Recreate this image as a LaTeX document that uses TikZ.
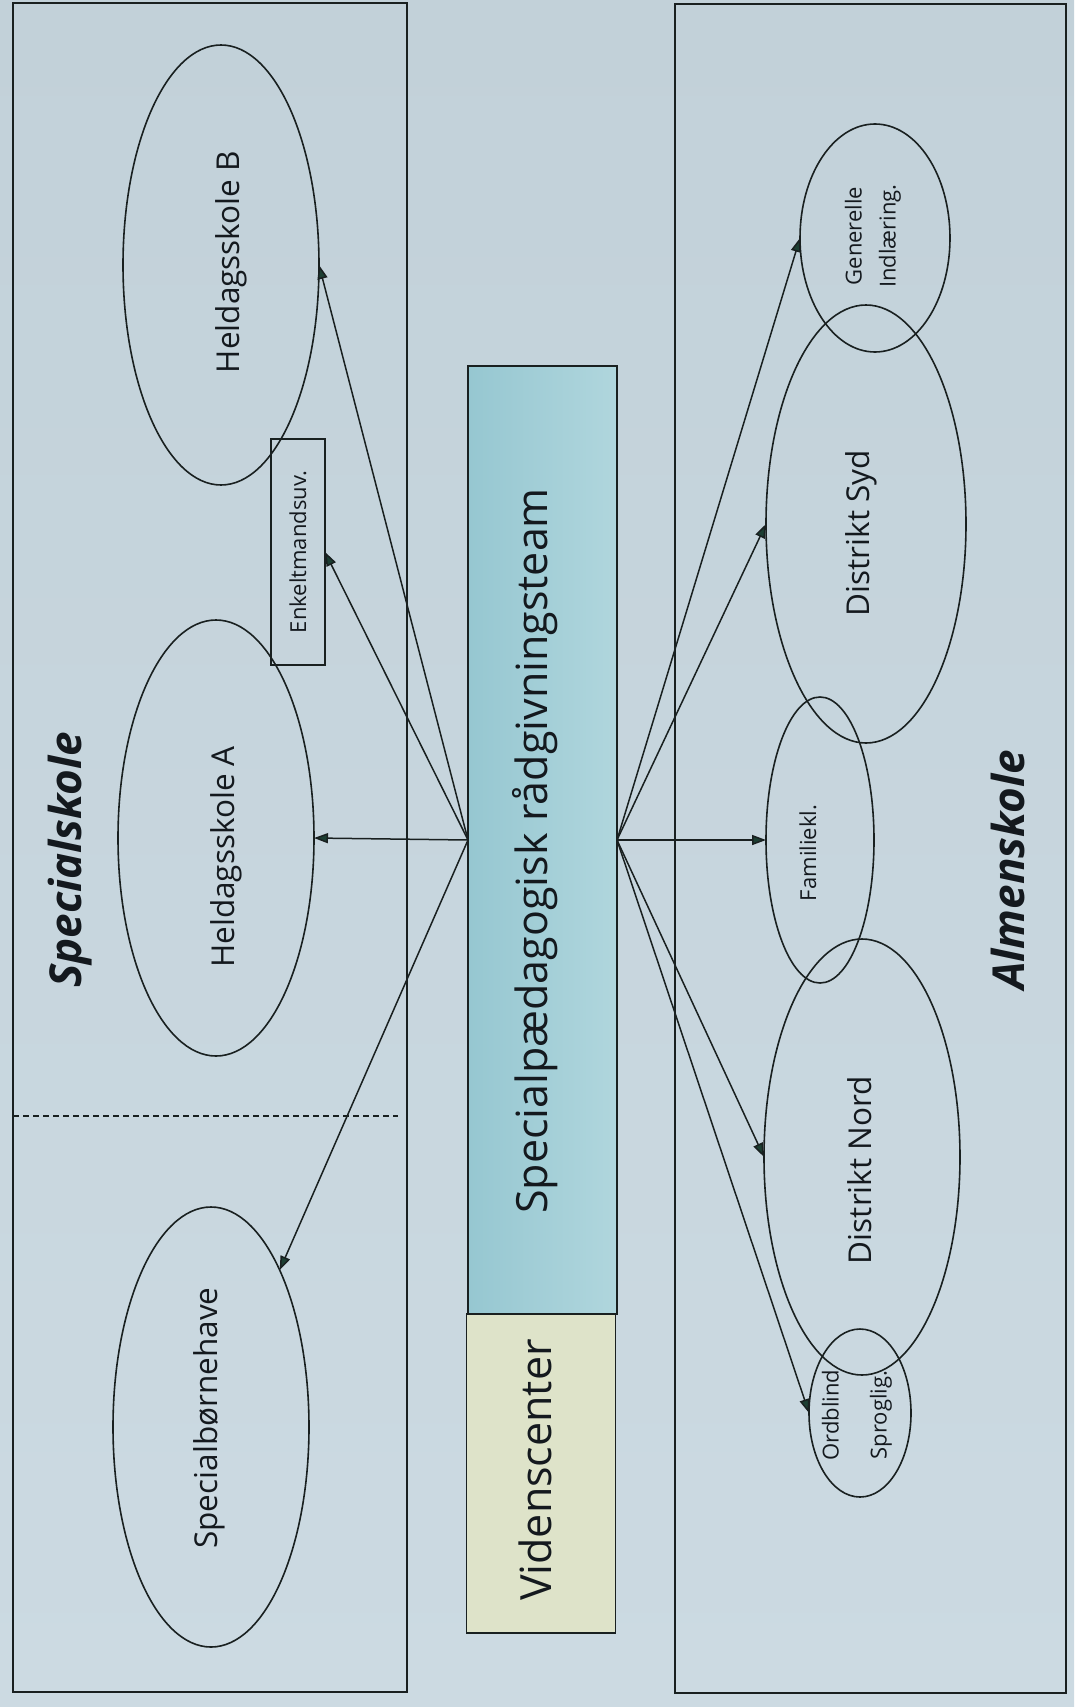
\documentclass[tikz,border=0pt]{standalone}
\usepackage{fontspec}
\setmainfont{Open Sans}
\usetikzlibrary{arrows.meta,shapes.geometric}
\definecolor{bgtop}{RGB}{194,209,217}
\definecolor{bgbot}{RGB}{204,218,226}
\definecolor{barl}{RGB}{150,199,209}
\definecolor{barr}{RGB}{176,214,221}
\definecolor{vidc}{RGB}{222,227,201}
\definecolor{linec}{RGB}{25,32,32}
\definecolor{tipc}{RGB}{28,62,50}
\definecolor{txtc}{RGB}{20,25,30}
\newcommand\szM{\fontsize{31.5}{38}\selectfont}
\newcommand\szL{\fontsize{43}{52}\selectfont}
\newcommand\szS{\fontsize{22}{34}\selectfont}
\newcommand\szT{\fontsize{44}{52}\selectfont}
\begin{document}
\begin{tikzpicture}[x=1pt,y=-1pt,
  every node/.style={inner sep=0pt, outer sep=0pt},
  frame/.style={draw=linec, line width=1.6pt},
  oval/.style={ellipse, draw=linec, line width=1.6pt},
  arr/.style={draw=linec, line width=1.5pt, -{Triangle[length=14pt,width=10pt,fill=tipc]}},
  lbl/.style={rotate=90, text=txtc, align=center}]
\shade[top color=bgtop, bottom color=bgbot] (0,0) rectangle (1074,1707);
\useasboundingbox (0,0) rectangle (1074,1707);
% containers
\draw[frame] (13,3) rectangle (407,1692);
\draw[frame] (675,4) rectangle (1066,1693);
\draw[linec, line width=1.3pt, dash pattern=on 6pt off 4pt] (13,1116) -- (398,1116);
% centre column
\node[frame, left color=barl, right color=barr, minimum width=149pt, minimum height=948pt] (bar) at (542.5,840) {};
\node[frame, fill=vidc, minimum width=149pt, minimum height=319pt] (vid) at (541,1473.5) {};
% left ellipses
\node[oval, minimum width=196pt, minimum height=440pt] (hB) at (221,265) {};
\node[oval, minimum width=196pt, minimum height=436pt] (hA) at (216,838) {};
\node[oval, minimum width=196pt, minimum height=440pt] (sbh) at (211,1427) {};
\node[frame, minimum width=54pt, minimum height=226pt] (enk) at (298,552) {};
% right ellipses
\node[oval, minimum width=150pt, minimum height=228pt] (gen) at (875,238) {};
\node[oval, minimum width=200pt, minimum height=438pt] (syd) at (866,524) {};
\node[oval, minimum width=108pt, minimum height=286pt] (fam) at (820,840) {};
\node[oval, minimum width=196pt, minimum height=436pt] (nord) at (862,1157) {};
\node[oval, minimum width=102pt, minimum height=168pt] (ord) at (860,1413) {};
% texts
\node[lbl, font=\szT\bfseries\itshape] (tspec) at (70,860) {Specialskole};
\node[lbl, font=\szT\bfseries\itshape] (talm) at (1008,870) {Almenskole};
\node[lbl, font=\szL] (tbar) at (535,851) {Specialpædagogisk rådgivningsteam};
\node[lbl, font=\szL] (tvid) at (535,1470) {Videnscenter};
\node[lbl, font=\szM] (thB) at (231,262) {Heldagsskole B};
\node[lbl, font=\szM] (thA) at (226,857) {Heldagsskole A};
\node[lbl, font=\szM] (tsbh) at (209,1418) {Specialbørnehave};
\node[lbl, font=\szS] (tenk) at (enk.center) {Enkeltmandsuv.};
\node[lbl, font=\szS] (tgen) at (873,236) {Generelle\\Indlæring.};
\node[lbl, font=\szM] (tsyd) at (861,533) {Distrikt Syd};
\node[lbl, font=\szS] (tfam) at (808,853) {Familiekl.};
\node[lbl, font=\szM] (tnord) at (860,1170) {Distrikt Nord};
\node[lbl, font=\szS] (tord) at (857,1415) {Ordblind\\[14pt]Sproglig.};
% connectors
\draw[arr] (bar.west) -- (hB.east);
\draw[arr] (bar.west) -- (enk.east);
\draw[arr] (bar.west) -- (hA.east);
\draw[arr] (bar.west) -- (sbh);
\draw[arr] (bar.east) -- (gen.west);
\draw[arr] (bar.east) -- (syd.west);
\draw[arr] (bar.east) -- (fam.west);
\draw[arr] (bar.east) -- (nord.west);
\draw[arr] (bar.east) -- (ord.west);
\end{tikzpicture}
\end{document}
